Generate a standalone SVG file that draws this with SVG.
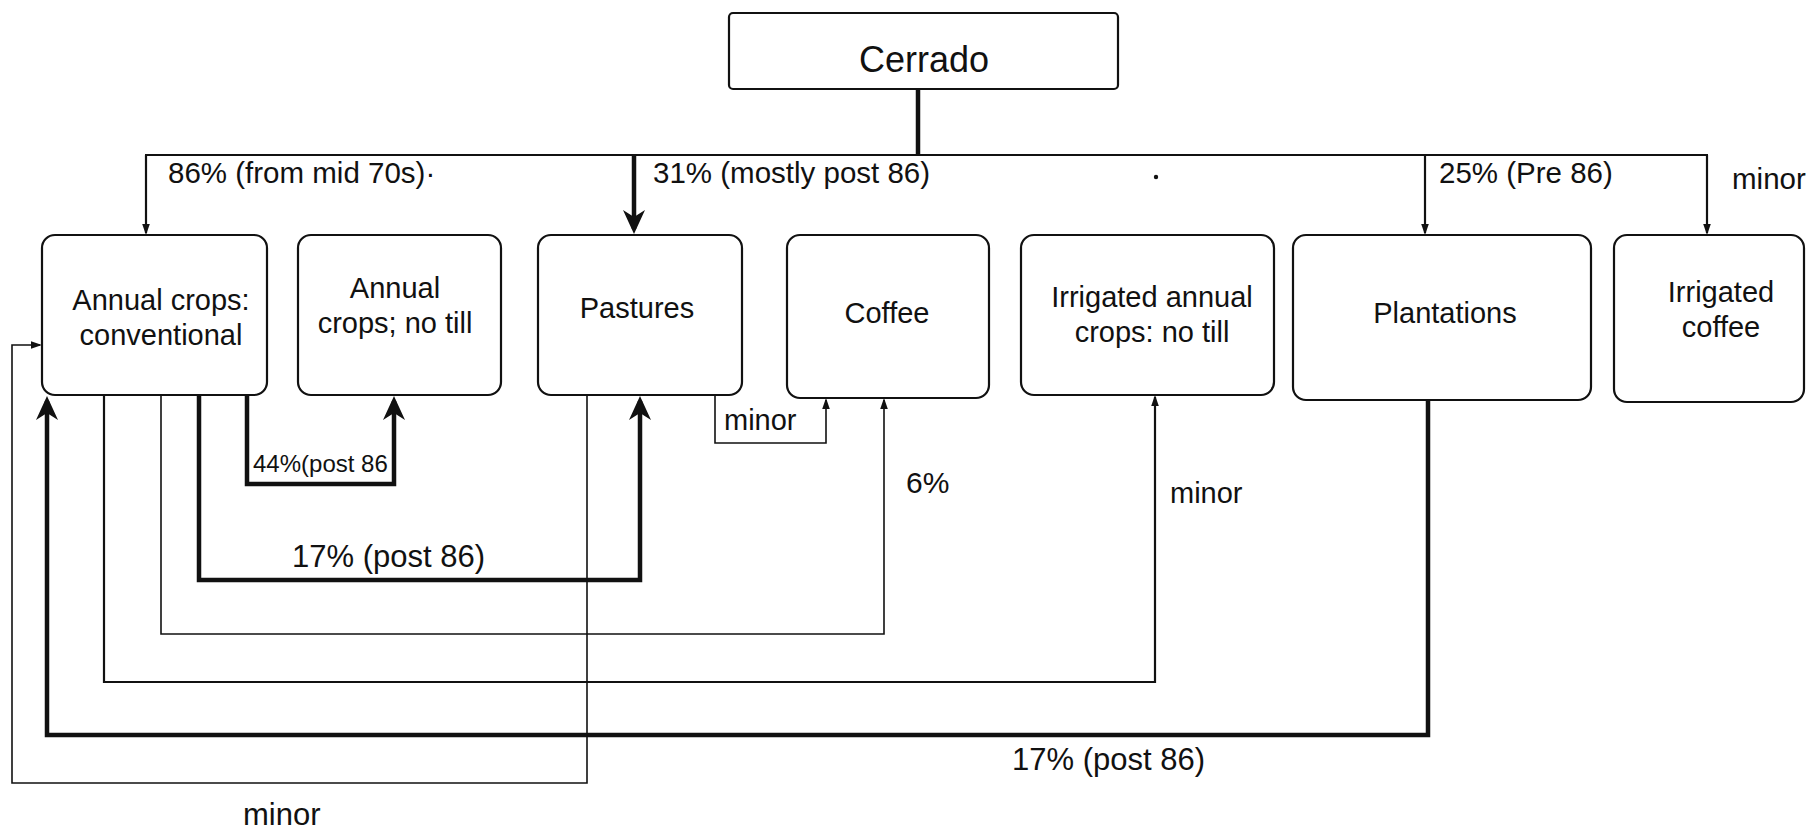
<svg xmlns="http://www.w3.org/2000/svg" width="1807" height="830" viewBox="0 0 1807 830">
<style>
text{font-family:"Liberation Sans",Arial,sans-serif;fill:#111}
.box{fill:#fff;stroke:#111;stroke-width:2.2}
.nt{font-size:29px;text-anchor:middle}
.lb{font-size:29.5px}
.c{fill:none;stroke:#111;stroke-linejoin:miter}
.thick{stroke-width:4.5}
.med{stroke-width:2.2}
.thin{stroke-width:1.6}
</style>
<defs>
<marker id="big" markerUnits="userSpaceOnUse" viewBox="-24 -12 30 24" refX="0" refY="0" markerWidth="30" markerHeight="24" orient="auto">
<path d="M5,0 L-19,-11 L-12,0 L-19,11 Z" fill="#111"/>
</marker>
<marker id="small" markerUnits="userSpaceOnUse" viewBox="-12 -6 16 12" refX="0" refY="0" markerWidth="16" markerHeight="12" orient="auto">
<path d="M2,0 L-9,-3.8 L-9,3.8 Z" fill="#111"/>
</marker>
</defs>
<rect width="1807" height="830" fill="#fff"/>

<g id="connectors">
<path class="c thick" d="M918,89 V155"/>
<path class="c med" d="M145,155 H1708"/>
<path class="c med" d="M146,155 V233" marker-end="url(#small)"/>
<path class="c thick" d="M634,155 V229" marker-end="url(#big)"/>
<path class="c med" d="M1425,155 V233" marker-end="url(#small)"/>
<path class="c med" d="M1707,155 V233" marker-end="url(#small)"/>
<path class="c thick" d="M247,395 V484 H394 V401" marker-end="url(#big)"/>
<path class="c thick" d="M199,395 V580 H640 V401" marker-end="url(#big)"/>
<path class="c thin" d="M161,395 V634 H884 V400" marker-end="url(#small)"/>
<path class="c med" d="M104,395 V682 H1155 V397" marker-end="url(#small)"/>
<path class="c thick" d="M1428,400 V735 H47 V401" marker-end="url(#big)"/>
<path class="c thin" d="M587,395 V783 H12 V345 H40" marker-end="url(#small)"/>
<path class="c thin" d="M715,395 V443 H826 V400" marker-end="url(#small)"/>
<circle cx="1156" cy="177" r="2.2" fill="#111"/>
</g>

<g id="labels">
<text class="lb" x="168" y="183">86% (from mid 70s)·</text>
<text class="lb" x="653" y="183">31% (mostly post 86)</text>
<text class="lb" x="1439" y="183">25% (Pre 86)</text>
<text class="lb" x="1732" y="189">minor</text>
<text x="253" y="472" font-size="24">44%(post 86</text>
<text x="724" y="430" font-size="29">minor</text>
<text x="906" y="493" font-size="30">6%</text>
<text x="1170" y="503" font-size="29">minor</text>
<text x="292" y="567" font-size="31">17% (post 86)</text>
<text x="1012" y="770" font-size="31">17% (post 86)</text>
<text x="243" y="825" font-size="31">minor</text>
</g>

<g id="cerrado">
<rect class="box" x="729" y="13" width="389" height="76" rx="4"/>
<text x="924" y="72" font-size="36" text-anchor="middle">Cerrado</text>
</g>
<g id="annual-conventional">
<rect class="box" x="42" y="235" width="225" height="160" rx="13"/>
<text class="nt" x="161" y="310">Annual crops:</text>
<text class="nt" x="161" y="345">conventional</text>
</g>
<g id="annual-notill">
<rect class="box" x="298" y="235" width="203" height="160" rx="13"/>
<text class="nt" x="395" y="298">Annual</text>
<text class="nt" x="395" y="333">crops; no till</text>
</g>
<g id="pastures">
<rect class="box" x="538" y="235" width="204" height="160" rx="13"/>
<text class="nt" x="637" y="318">Pastures</text>
</g>
<g id="coffee">
<rect class="box" x="787" y="235" width="202" height="163" rx="13"/>
<text class="nt" x="887" y="323">Coffee</text>
</g>
<g id="irrigated-annual">
<rect class="box" x="1021" y="235" width="253" height="160" rx="13"/>
<text class="nt" x="1152" y="307">Irrigated annual</text>
<text class="nt" x="1152" y="342">crops: no till</text>
</g>
<g id="plantations">
<rect class="box" x="1293" y="235" width="298" height="165" rx="13"/>
<text class="nt" x="1445" y="323">Plantations</text>
</g>
<g id="irrigated-coffee">
<rect class="box" x="1614" y="235" width="190" height="167" rx="13"/>
<text class="nt" x="1721" y="302">Irrigated</text>
<text class="nt" x="1721" y="337">coffee</text>
</g>
</svg>
